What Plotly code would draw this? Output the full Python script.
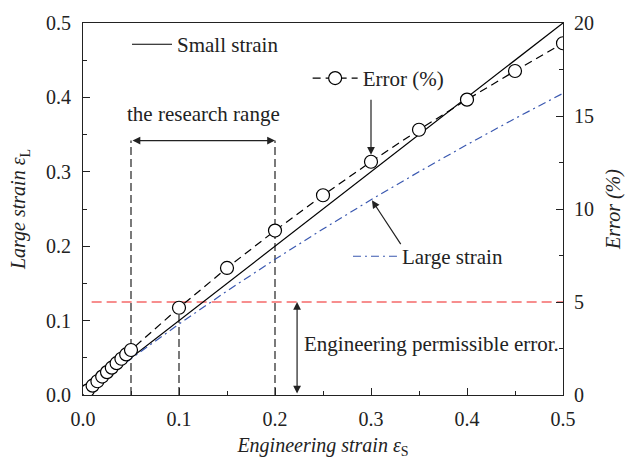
import plotly.graph_objects as go

# ---- data ----
strain_s = [0.0, 0.05, 0.10, 0.15, 0.20, 0.25, 0.30, 0.35, 0.40, 0.45, 0.50]
small_strain = [0.0, 0.05, 0.10, 0.15, 0.20, 0.25, 0.30, 0.35, 0.40, 0.45, 0.50]
large_strain = [0.0, 0.0488, 0.0953, 0.1398, 0.1823, 0.2231, 0.2624, 0.3001, 0.3365, 0.3716, 0.4055]

err_x = [0.005, 0.010, 0.015, 0.020, 0.025, 0.030, 0.035, 0.040, 0.045, 0.050,
         0.10, 0.15, 0.20, 0.25, 0.30, 0.35, 0.40, 0.45, 0.50]
err_pct = [0.25, 0.50, 0.74, 0.99, 1.23, 1.47, 1.71, 1.95, 2.18, 2.42,
           4.69, 6.83, 8.84, 10.74, 12.54, 14.26, 15.88, 17.42, 18.91]

research_range = [0.05, 0.20]
mid_mark = 0.10
permissible_error = 5.0   # %

x_ticks = [0.0, 0.1, 0.2, 0.3, 0.4, 0.5]
yl_ticks = [0.0, 0.1, 0.2, 0.3, 0.4, 0.5]
yr_ticks = [0, 5, 10, 15, 20]

FONT = "Liberation Serif, Times New Roman, serif"
BLUE = "#3a58b0"
RED = "#f01e1e"
INK = "#222222"

fig = go.Figure()
fig.add_trace(go.Scatter(x=[strain_s[0], strain_s[-1]], y=[small_strain[0], small_strain[-1]],
                         mode="lines", name="Small strain", showlegend=True,
                         line=dict(color="black", width=1.2), legend="legend"))
fig.add_trace(go.Scatter(x=strain_s, y=large_strain, mode="lines", name="Large strain",
                         showlegend=True,
                         line=dict(color=BLUE, width=1.2, dash="8px,4px,2px,4px"),
                         legend="legend3"))
fig.add_trace(go.Scatter(x=err_x, y=err_pct, yaxis="y2", mode="lines+markers", name="Error (%)",
                         showlegend=True,
                         line=dict(color="black", width=1.2, dash="8px,5px"),
                         marker=dict(symbol="circle", size=13, color="white",
                                     line=dict(color="black", width=1.2)),
                         legend="legend2"))

# value at x=0.1 of the error curve, expressed on left axis scale
err_at_mid = err_pct[err_x.index(mid_mark)] / 20 * 0.5
top_range = 0.342

shapes = []
for xv in research_range:
    shapes.append(dict(type="line", xref="x", yref="y", x0=xv, x1=xv, y0=0, y1=top_range,
                       line=dict(color=INK, width=1.2, dash="8px,4px"), layer="below"))
shapes.append(dict(type="line", xref="x", yref="y", x0=mid_mark, x1=mid_mark, y0=0, y1=err_at_mid,
                   line=dict(color=INK, width=1.2, dash="8px,4px"), layer="below"))
shapes.append(dict(type="line", xref="x", yref="y2", x0=0.009, x1=0.5, y0=permissible_error,
                   y1=permissible_error, line=dict(color=RED, width=1.2, dash="10px,5px"),
                   layer="below"))

annos = []
# research range double arrow
annos.append(dict(x=research_range[1], y=top_range, ax=research_range[0], ay=top_range,
                  xref="x", yref="y", axref="x", ayref="y", text="", showarrow=True,
                  arrowhead=2, startarrowhead=2, arrowside="end+start", arrowsize=1.3,
                  arrowwidth=1.2, arrowcolor=INK))
annos.append(dict(x=0.125, y=0.378, xref="x", yref="y", text="the research range",
                  showarrow=False, font=dict(family=FONT, size=21, color=INK)))
# permissible error double arrow
annos.append(dict(x=0.223, y=permissible_error, ax=0.223, ay=0, xref="x", yref="y2",
                  axref="x", ayref="y2", text="", showarrow=True, arrowhead=2, startarrowhead=2,
                  arrowside="end+start", arrowsize=1.3, arrowwidth=1.2, arrowcolor=INK))
annos.append(dict(x=0.228, y=0.0687, xref="x", yref="y", text="Engineering permissible error.",
                  xanchor="left", showarrow=False, font=dict(family=FONT, size=21, color=INK)))
# error arrow
annos.append(dict(x=0.3, y=0.323, ax=0.3, ay=0.399, xref="x", yref="y", axref="x", ayref="y",
                  text="", showarrow=True, arrowhead=2, arrowsize=1.3, arrowwidth=1.2,
                  arrowcolor=INK))
# large strain arrow
annos.append(dict(x=0.301, y=0.2617, ax=0.332, ay=0.2008, xref="x", yref="y", axref="x",
                  ayref="y", text="", showarrow=True, arrowhead=2, arrowsize=1.3, arrowwidth=1.2,
                  arrowcolor=INK))

legend_common = dict(bgcolor="rgba(0,0,0,0)", font=dict(family=FONT, size=21, color=INK),
                     xanchor="left", yanchor="middle", xref="paper", yref="paper",
                     visible=True)

fig.update_layout(
    width=637, height=464,
    margin=dict(l=83, r=74, t=14, b=64),
    paper_bgcolor="white", plot_bgcolor="white",
    showlegend=True,
    font=dict(family=FONT, size=20, color=INK),
    legend=dict(x=0.0917, y=0.942, itemwidth=40, **legend_common),
    legend2=dict(x=0.468, y=0.851, itemwidth=45, **legend_common),
    legend3=dict(x=0.552, y=0.372, itemwidth=44, **legend_common),
    xaxis=dict(range=[0, 0.5], tickvals=x_ticks, tickformat=".1f", ticks="inside", ticklen=7,
               tickcolor=INK, showline=True, linecolor=INK, linewidth=1.2, mirror=True,
               showgrid=False, zeroline=False, ticklabelstandoff=6,
               minor=dict(dtick=0.05, ticks="inside", ticklen=4, tickcolor=INK),
               title=dict(text="<i>Engineering strain ε</i><sub>S</sub>", standoff=8,
                          font=dict(family=FONT, size=20))),
    yaxis=dict(range=[0, 0.5], tickvals=yl_ticks, tickformat=".1f", ticks="inside", ticklen=7,
               tickcolor=INK, showline=True, linecolor=INK, linewidth=1.2,
               showgrid=False, zeroline=False, ticklabelstandoff=7,
               minor=dict(dtick=0.05, ticks="inside", ticklen=4, tickcolor=INK),
               title=dict(text="<i>Large strain ε</i><sub>L</sub>", standoff=14,
                          font=dict(family=FONT, size=20))),
    yaxis2=dict(range=[0, 20], tickvals=yr_ticks, overlaying="y", side="right", ticks="inside",
                ticklen=7, tickcolor=INK, showline=True, linecolor=INK, linewidth=1.2,
                showgrid=False, zeroline=False, ticklabelstandoff=6,
                minor=dict(dtick=2.5, ticks="inside", ticklen=4, tickcolor=INK),
                title=dict(text="<i>Error (%)</i>", standoff=12, font=dict(family=FONT, size=20))),
    shapes=shapes,
    annotations=annos,
)

fig.write_html("out.html")
